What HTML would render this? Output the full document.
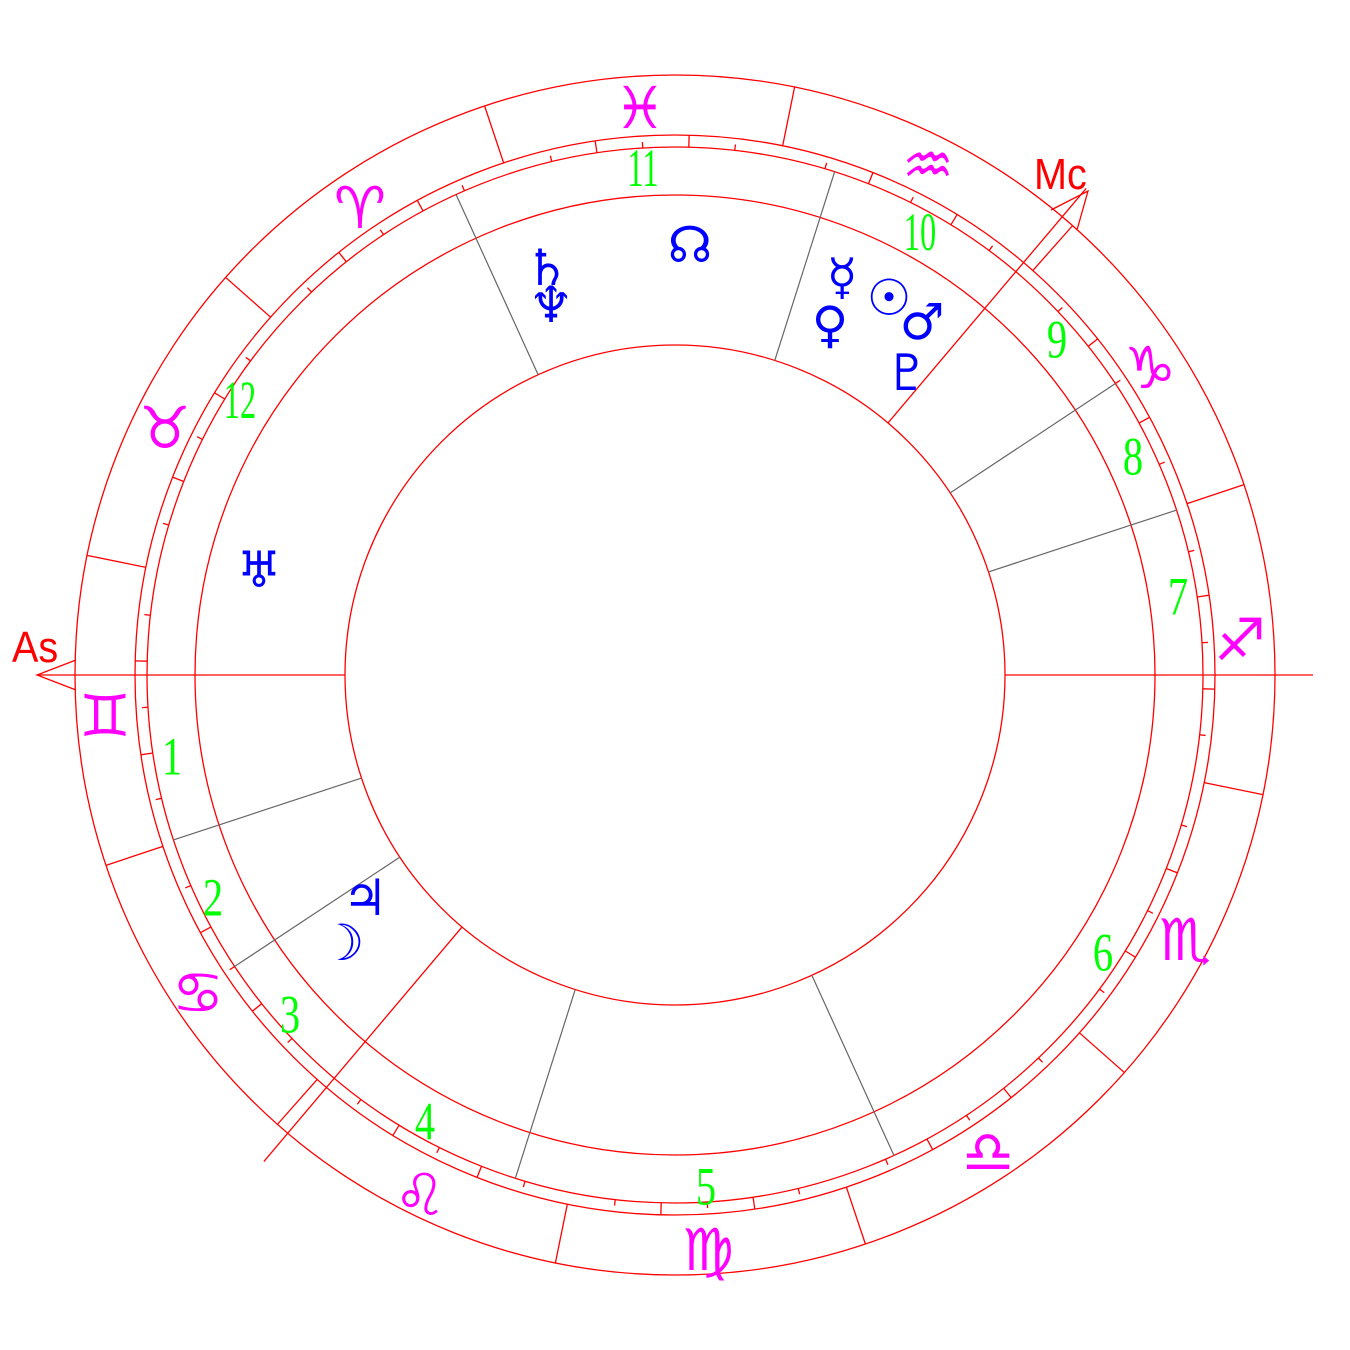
<!DOCTYPE html>
<html><head><meta charset="utf-8">
<style>
html,body{margin:0;padding:0;background:#fff;}
svg{display:block;}
.s{fill:#ff00ff;font-family:"DejaVu Sans",sans-serif;font-size:58px;font-weight:bold;text-anchor:middle;dominant-baseline:central;}
.h{fill:#00ff00;font-family:"Liberation Serif",serif;font-size:54px;text-anchor:middle;dominant-baseline:central;}
.p{fill:#0000ff;font-family:"DejaVu Sans",sans-serif;font-size:50px;font-weight:bold;text-anchor:middle;dominant-baseline:central;}
.l{fill:#ff0000;font-family:"Liberation Sans",sans-serif;font-size:44px;}
</style></head>
<body>
<svg id="c" width="1350" height="1350" viewBox="0 0 1350 1350" xmlns="http://www.w3.org/2000/svg">
<g fill="none" stroke="#ff0000" stroke-width="1.3">
<circle cx="675" cy="675" r="600"/>
<circle cx="675" cy="675" r="540"/>
<circle cx="675" cy="675" r="528"/>
<circle cx="675" cy="675" r="480"/>
<circle cx="675" cy="675" r="330"/>
<line x1="37" y1="675" x2="345" y2="675"/>
<line x1="1005" y1="675" x2="1313" y2="675"/>
<polyline points="76,660 37,675 76,690"/>
<polyline points="1051,210 1088,191 1077,230"/>
</g>
<g id="lines"></g>
<text class="l" transform="translate(12,662) scale(0.9,1)">As</text>
<text class="l" transform="translate(1034,189) scale(0.9,1)">Mc</text>
<text class="s" x="105" y="716">♊</text>
<text class="s" x="198" y="993">♋</text>
<text class="s" x="420" y="1195">♌</text>
<text class="s" x="708" y="1250">♍</text>
<text class="s" x="988" y="1152">♎</text>
<text class="s" x="1185" y="940">♏</text>
<text class="s" x="1240" y="640">♐</text>
<text class="s" x="1150" y="368">♑</text>
<text class="s" x="928" y="165">♒</text>
<text class="s" x="640" y="108">♓</text>
<text class="s" x="360" y="208">♈</text>
<text class="s" x="165" y="428">♉</text>
<text class="h" transform="translate(172,757) scale(0.75,1)">1</text>
<text class="h" transform="translate(213,898) scale(0.75,1)">2</text>
<text class="h" transform="translate(290,1015) scale(0.75,1)">3</text>
<text class="h" transform="translate(425,1122) scale(0.75,1)">4</text>
<text class="h" transform="translate(706,1187) scale(0.75,1)">5</text>
<text class="h" transform="translate(1103,953) scale(0.75,1)">6</text>
<text class="h" transform="translate(1178,597) scale(0.75,1)">7</text>
<text class="h" transform="translate(1133,457) scale(0.75,1)">8</text>
<text class="h" transform="translate(1057,340) scale(0.75,1)">9</text>
<text class="h" transform="translate(920,232) scale(0.6,1)">10</text>
<text class="h" transform="translate(643,168) scale(0.6,1)">11</text>
<text class="h" transform="translate(240,400) scale(0.6,1)">12</text>
<text class="p" x="547" y="268">♄</text>
<text class="p" x="551" y="305">♆</text>
<text class="p" x="690" y="245">☊</text>
<text class="p" x="842" y="277">☿</text>
<text class="p" x="889" y="298">☉</text>
<text class="p" x="830" y="325">♀</text>
<text class="p" x="922" y="322">♂</text>
<text class="p" x="907" y="373">♇</text>
<text class="p" x="259" y="570">♅</text>
<text class="p" x="365" y="898">♃</text>
<text class="p" x="342" y="943">☽</text>
</svg>
<script>
(function(){
var g=document.getElementById('lines'),ns='http://www.w3.org/2000/svg',cx=675,cy=675;
function L(a,r1,r2,col,w){var t=a*Math.PI/180,c=Math.cos(t),s=Math.sin(t);
var e=document.createElementNS(ns,'line');
e.setAttribute('x1',cx+r1*c);e.setAttribute('y1',cy-r1*s);
e.setAttribute('x2',cx+r2*c);e.setAttribute('y2',cy-r2*s);
e.setAttribute('stroke',col);e.setAttribute('stroke-width',w||1.3);g.appendChild(e);}
for(var k=0;k<12;k++){L(168.5+30*k,540,600,'#ff0000');}
for(var k=0;k<72;k++){var a=168.5+5*k;if(k%6==0)continue;
if(k%2==0)L(a,528,540,'#ff0000');else L(a,528,534,'#ff0000');}
[114.5,72.4,33.5,18.2,198.2,213.5,252.4,294.5].forEach(function(a){L(a,330,528,'#666',1.2);});
L(49.8,330,637,'#ff0000');L(229.8,330,637,'#ff0000');
})();
</script>
</body></html>
